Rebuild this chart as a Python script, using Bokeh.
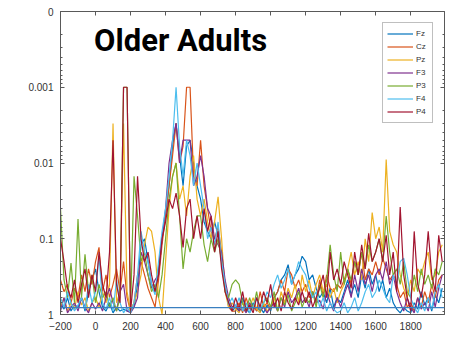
from bokeh.plotting import figure
from bokeh.models import (Range1d, FixedTicker, LinearAxis, LogAxis, Legend,
                          LegendItem, Label, Span)
from bokeh.embed import file_html
from bokeh.resources import INLINE

# Sample times (ms), 20 ms steps
times = list(range(-200, 2000, 20))

# p-values per electrode
fz = [0.7, 0.85, 0.6, 0.9, 0.75, 0.8, 0.6, 0.9, 0.5, 0.35,
      0.25, 0.5, 0.8, 0.9, 0.7, 0.95, 0.8, 0.9, 0.85, 0.9,
      0.9, 0.8, 0.4, 0.12, 0.1, 0.2, 0.4, 0.5, 0.25, 0.1,
      0.05, 0.02, 0.006, 0.003, 0.008, 0.02, 0.006, 0.005, 0.01, 0.02,
      0.03, 0.06, 0.08, 0.1, 0.06, 0.09, 0.2, 0.45, 0.7, 0.9,
      0.8, 0.9, 0.6, 0.85, 0.95, 0.7, 0.9, 0.8, 0.95, 0.75,
      0.9, 0.6, 0.5, 0.35, 0.3, 0.22, 0.4, 0.3, 0.25, 0.17,
      0.2, 0.35, 0.3, 0.45, 0.6, 0.5, 0.7, 0.45, 0.8, 0.6,
      0.7, 0.5, 0.35, 0.55, 0.4, 0.6, 0.3, 0.45, 0.25, 0.4,
      0.3, 0.5, 0.35, 0.6, 0.45, 0.7, 0.85, 0.95, 0.8, 0.9,
      0.95, 0.7, 0.85, 0.5, 0.75, 0.6, 0.9, 0.55, 0.7, 0.45]

cz = [0.35, 0.5, 0.4, 0.7, 0.45, 0.6, 0.3, 0.5, 0.25, 0.4,
      0.2, 0.13, 0.5, 0.3, 0.6, 0.4, 0.25, 0.5, 0.2, 0.6,
      0.9, 0.7, 0.3, 0.2, 0.3, 0.45, 0.6, 0.8, 0.35, 0.12,
      0.05, 0.02, 0.008, 0.003, 0.01, 0.006, 0.001, 0.001, 0.015, 0.02,
      0.005, 0.02, 0.04, 0.08, 0.1, 0.07, 0.15, 0.4, 0.8, 0.9,
      0.9, 0.7, 0.95, 0.6, 0.85, 0.75, 0.9, 0.5, 0.8, 0.7,
      0.85, 0.6, 0.5, 0.35, 0.5, 0.25, 0.3, 0.45, 0.35, 0.5,
      0.4, 0.6, 0.5, 0.7, 0.35, 0.55, 0.3, 0.45, 0.5, 0.4,
      0.45, 0.35, 0.25, 0.4, 0.2, 0.3, 0.15, 0.35, 0.25, 0.3,
      0.2, 0.3, 0.18, 0.25, 0.35, 0.3, 0.4, 0.6, 0.5, 0.8,
      0.7, 0.9, 0.6, 0.8, 0.5, 0.7, 0.4, 0.6, 0.35, 0.3]

pz = [0.8, 0.6, 0.9, 0.7, 0.85, 0.5, 0.75, 0.6, 0.9, 0.7,
      0.6, 0.8, 0.5, 0.7, 0.4, 0.003, 0.7, 0.5, 0.003, 0.5,
      0.9, 0.7, 0.5, 0.3, 0.12, 0.07, 0.08, 0.15, 0.6, 1.0,
      0.2, 0.04, 0.015, 0.01, 0.03, 0.02, 0.05, 0.015, 0.008, 0.03,
      0.05, 0.03, 0.06, 0.1, 0.06, 0.028, 0.1, 0.5, 0.8, 0.7,
      0.85, 0.95, 0.7, 0.9, 0.8, 0.6, 0.85, 0.95, 0.7, 0.9,
      0.8, 0.6, 0.9, 0.5, 0.7, 0.45, 0.6, 0.4, 0.7, 0.3,
      0.5, 0.35, 0.6, 0.4, 0.3, 0.5, 0.4, 0.6, 0.45, 0.7,
      0.5, 0.4, 0.25, 0.15, 0.3, 0.2, 0.35, 0.1, 0.2, 0.045,
      0.1, 0.07, 0.15, 0.009, 0.08, 0.12, 0.15, 0.3, 0.45, 0.6,
      0.35, 0.5, 0.25, 0.3, 0.2, 0.15, 0.35, 0.3, 0.15, 0.12]

f3 = [0.9, 0.6, 0.95, 0.8, 0.7, 0.9, 0.6, 0.8, 0.95, 0.7,
      0.85, 0.7, 0.9, 0.6, 0.45, 0.7, 0.9, 0.5, 0.4, 0.9,
      0.95, 0.8, 0.6, 0.15, 0.2, 0.3, 0.45, 0.35, 0.3, 0.1,
      0.04, 0.01, 0.005, 0.003, 0.01, 0.005, 0.005, 0.005, 0.02, 0.015,
      0.008, 0.015, 0.04, 0.05, 0.1, 0.12, 0.15, 0.35, 0.6, 0.8,
      0.75, 0.9, 0.8, 0.95, 0.7, 0.85, 0.6, 0.9, 0.8, 0.95,
      0.8, 0.7, 0.9, 0.6, 0.8, 0.5, 0.7, 0.6, 0.45, 0.7,
      0.6, 0.8, 0.5, 0.7, 0.65, 0.85, 0.5, 0.7, 0.9, 0.6,
      0.8, 0.55, 0.4, 0.6, 0.3, 0.5, 0.25, 0.4, 0.3, 0.5,
      0.3, 0.25, 0.35, 0.2, 0.4, 0.3, 0.5, 0.7, 0.9, 0.6,
      0.8, 0.95, 0.6, 0.85, 0.7, 0.9, 0.5, 0.8, 0.45, 0.3]

p3 = [0.04, 0.35, 0.6, 0.21, 0.7, 0.055, 0.6, 0.16, 0.5, 0.3,
      0.7, 0.4, 0.6, 0.5, 0.8, 0.6, 0.9, 0.6, 0.001, 0.001,
      0.9, 0.015, 0.05, 0.2, 0.15, 0.3, 0.5, 0.4, 0.6, 0.3,
      0.1, 0.03, 0.015, 0.01, 0.05, 0.25, 0.1, 0.15, 0.08, 0.05,
      0.05, 0.12, 0.2, 0.1, 0.15, 0.1, 0.2, 0.5, 0.6, 0.4,
      0.35, 0.4, 0.7, 0.9, 0.6, 0.85, 0.5, 0.9, 0.7, 0.6,
      0.8, 0.5, 0.9, 0.6, 0.75, 0.55, 0.9, 0.7, 0.5, 0.8,
      0.6, 0.7, 0.5, 0.8, 0.4, 0.6, 0.35, 0.12, 0.3, 0.5,
      0.15, 0.4, 0.25, 0.35, 0.2, 0.3, 0.15, 0.25, 0.12, 0.2,
      0.15, 0.1, 0.2, 0.05, 0.15, 0.3, 0.25, 0.4, 0.2, 0.5,
      0.6, 0.3, 0.5, 0.25, 0.4, 0.3, 0.45, 0.25, 0.3, 0.2]

f4 = [0.6, 0.8, 0.5, 0.7, 0.9, 0.75, 0.6, 0.85, 0.4, 0.7,
      0.5, 0.17, 0.7, 0.85, 0.6, 0.9, 0.35, 0.7, 0.95, 0.8,
      0.95, 0.7, 0.3, 0.08, 0.15, 0.2, 0.4, 0.55, 0.2, 0.08,
      0.04, 0.015, 0.005, 0.001, 0.006, 0.015, 0.005, 0.008, 0.02, 0.01,
      0.02, 0.04, 0.1, 0.07, 0.12, 0.06, 0.2, 0.4, 0.75, 0.6,
      0.8, 0.6, 0.9, 0.7, 0.95, 0.8, 0.6, 0.85, 0.7, 0.5,
      0.6, 0.4, 0.3, 0.45, 0.35, 0.25, 0.4, 0.3, 0.2, 0.25,
      0.3, 0.45, 0.6, 0.5, 0.8, 0.6, 0.9, 0.7, 0.85, 0.95,
      0.9, 0.7, 0.95, 0.8, 0.6, 0.9, 0.7, 0.5, 0.4, 0.6,
      0.5, 0.35, 0.45, 0.6, 0.7, 0.3, 0.4, 0.2, 0.18, 0.3,
      0.6, 0.8, 0.95, 0.7, 0.9, 0.6, 0.85, 0.5, 0.4, 0.6]

p4 = [0.1, 0.2, 0.45, 0.6, 0.35, 0.7, 0.4, 0.25, 0.6, 0.3,
      0.5, 0.15, 0.4, 0.6, 0.15, 0.005, 0.4, 0.7, 0.001, 0.001,
      0.9, 0.3, 0.015, 0.1, 0.2, 0.15, 0.3, 0.5, 0.3, 0.1,
      0.06, 0.03, 0.04, 0.025, 0.05, 0.13, 0.04, 0.03, 0.1, 0.05,
      0.1, 0.04, 0.08, 0.05, 0.15, 0.08, 0.25, 0.5, 0.7, 0.9,
      0.6, 0.85, 0.5, 0.9, 0.75, 0.95, 0.6, 0.8, 0.5, 0.7,
      0.4, 0.8, 0.6, 0.9, 0.5, 0.7, 0.85, 0.6, 0.75, 0.5,
      0.7, 0.5, 0.8, 0.6, 0.45, 0.3, 0.6, 0.15, 0.35, 0.25,
      0.4, 0.2, 0.3, 0.45, 0.15, 0.3, 0.12, 0.25, 0.085, 0.2,
      0.15, 0.1, 0.2, 0.09, 0.3, 0.15, 0.5, 0.038, 0.3, 0.6,
      0.9, 0.08, 0.4, 0.6, 0.3, 0.08, 0.3, 0.5, 0.09, 0.2]

electrodes = ["Fz", "Cz", "Pz", "F3", "P3", "F4", "P4"]
series = [fz, cz, pz, f3, p3, f4, p4]
colors = ["#0072BD", "#D95319", "#EDB120", "#7E2F8E", "#77AC30", "#4DBEEE", "#A2142F"]

criterion_p = 0.81   # horizontal reference level
x_ticks = list(range(-200, 2000, 200))
y_ticks = [1e-4, 1e-3, 1e-2, 1e-1, 1.0]
y_labels = {1e-4: "0", 1e-3: "0.001", 1e-2: "0.01", 1e-1: "0.1", 1.0: "1"}
y_minor = [k * 10.0 ** d for d in range(-4, 0) for k in range(2, 10)]

p = figure(width=450, height=342, y_axis_type="log",
           x_range=Range1d(-200, 1993), y_range=Range1d(1, 1e-4),
           output_backend="svg", toolbar_location=None,
           min_border_left=60, min_border_right=6,
           min_border_top=11, min_border_bottom=28)
p.background_fill_color = "white"
p.border_fill_color = "white"
p.outline_line_color = "#7f7f7f"
p.grid.visible = False

axis_color = "#595959"
label_font = "Liberation Sans"


def style_axis(ax, show_labels):
    ax.axis_line_color = axis_color
    ax.major_tick_line_color = axis_color
    ax.minor_tick_line_color = axis_color
    ax.major_tick_in = 4
    ax.major_tick_out = 0
    ax.minor_tick_in = 2
    ax.minor_tick_out = 0
    if show_labels:
        ax.major_label_standoff = 7
        ax.major_label_text_font = label_font
        ax.major_label_text_font_size = "10px"
        ax.major_label_text_color = "#333333"
    else:
        ax.major_label_standoff = 0
        ax.major_label_text_font_size = "1px"
        ax.major_label_text_color = None


xax = p.xaxis[0]
xax.ticker = FixedTicker(ticks=x_ticks, minor_ticks=[])
yax = p.yaxis[0]
yax.ticker = FixedTicker(ticks=y_ticks, minor_ticks=y_minor)
yax.major_label_overrides = y_labels
style_axis(xax, True)
style_axis(yax, True)

# mirrored axes on top and right carry ticks only
top = LinearAxis(ticker=FixedTicker(ticks=x_ticks, minor_ticks=[]))
right = LogAxis(ticker=FixedTicker(ticks=y_ticks, minor_ticks=y_minor))
style_axis(top, False)
style_axis(right, False)
p.add_layout(top, "above")
p.add_layout(right, "right")

p.add_layout(Span(location=criterion_p, dimension="width",
                  line_color="#3a7fc0", line_width=1.2))

items = []
for name, vals, col in zip(electrodes, series, colors):
    r = p.line(times, vals, line_color=col, line_width=1.2)
    items.append(LegendItem(label=name, renderers=[r]))

legend = Legend(items=items, location="top_right", margin=11,
                padding=4, spacing=0, glyph_width=26, glyph_height=13,
                label_height=13, label_width=12, label_standoff=3,
                label_text_font=label_font, label_text_font_size="8px",
                label_text_color="#333333",
                border_line_color="#808080", border_line_width=1.5,
                background_fill_color="white", background_fill_alpha=1)
p.add_layout(legend)

p.add_layout(Label(x=-8, y=4.3e-4, text="Older Adults",
                   text_font="Roboto", text_font_style="bold",
                   text_font_size="31px", text_color="black"))

open("out.html", "w").write(file_html(p, INLINE))
